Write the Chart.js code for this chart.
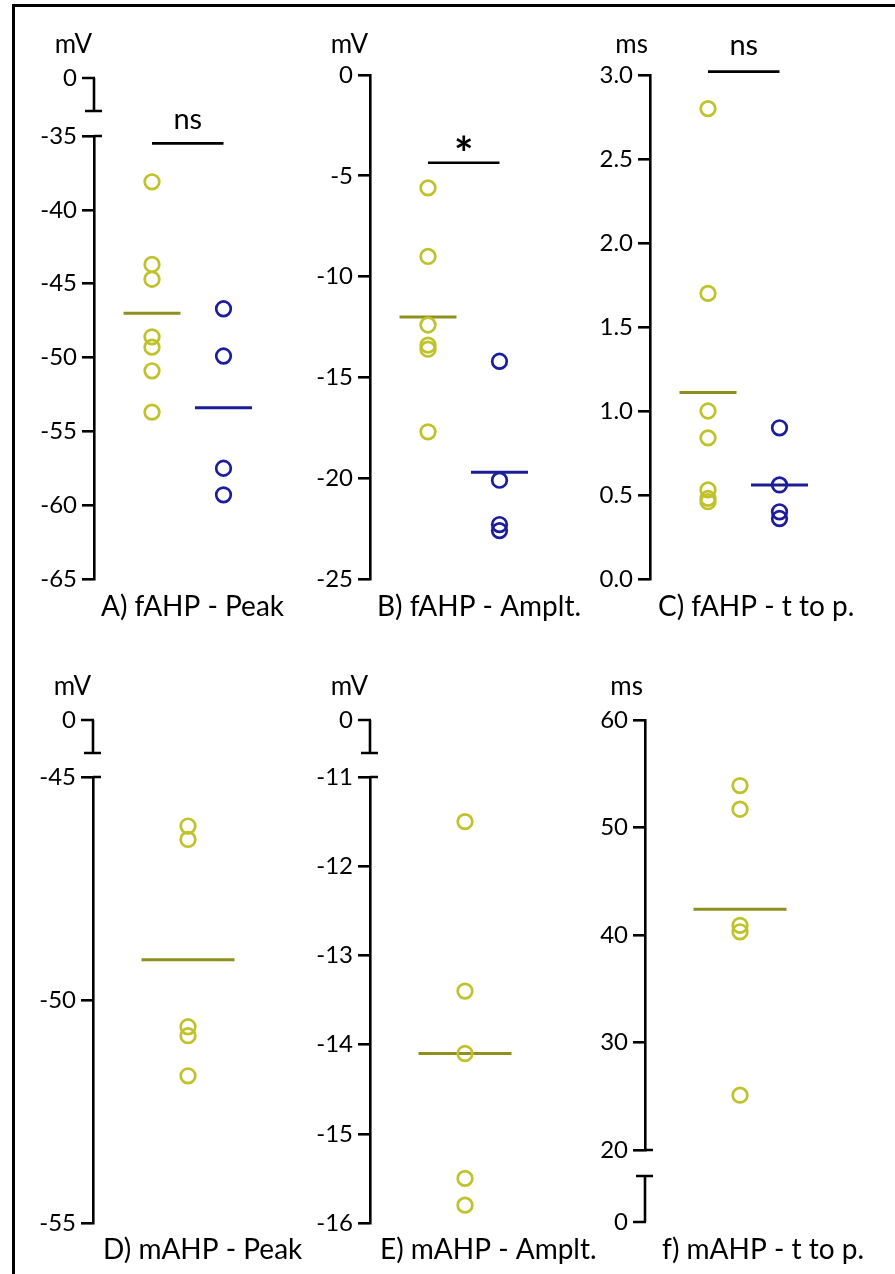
<!DOCTYPE html>
<html lang="en">
<head>
<meta charset="UTF-8">
<title>fAHP / mAHP parameters</title>
<script src="https://cdn.jsdelivr.net/npm/chart.js@4.4.1/dist/chart.umd.min.js"></script>
<style>
  body { margin: 0; background: #fff; width: 895px; height: 1274px; overflow: hidden; position: relative; }
  #frame { position: absolute; left: 12px; top: 4px; width: 900px; height: 1300px; border: 3px solid #000; box-sizing: border-box; }
  canvas { position: absolute; }
</style>
</head>
<body>
<div id="frame"></div>
<script>
// ---- panel titles and units ----
const titles = ['A) fAHP - Peak', 'B) fAHP - Amplt.', 'C) fAHP - t to p.',
                'D) mAHP - Peak', 'E) mAHP - Amplt.', 'f) mAHP - t to p.'];
const units = ['mV', 'mV', 'ms', 'mV', 'mV', 'ms'];

// ---- y tick labels (main axis segment) ----
const ticksA = [-65, -60, -55, -50, -45, -40, -35];
const ticksB = [-25, -20, -15, -10, -5, 0];
const ticksC = [0, 0.5, 1, 1.5, 2, 2.5, 3];
const ticksD = [-55, -50, -45];
const ticksE = [-16, -15, -14, -13, -12, -11];
const ticksF = [20, 30, 40, 50, 60];
// label on the short piece beyond the axis break
const breakTicks = [0, null, null, 0, 0, 0];

// ---- single cells: yellow group / blue group ----
const yellowA = [-38.1, -43.7, -44.7, -48.6, -49.3, -50.9, -53.7];
const blueA   = [-46.7, -49.9, -57.5, -59.3];
const yellowB = [-5.6, -9.0, -12.4, -13.4, -13.6, -17.7];
const blueB   = [-14.2, -20.1, -22.3, -22.6];
const yellowC = [2.8, 1.7, 1.0, 0.84, 0.53, 0.48, 0.46];
const blueC   = [0.9, 0.56, 0.4, 0.36];
const yellowD = [-46.1, -46.4, -50.6, -50.8, -51.7];
const yellowE = [-11.5, -13.4, -14.1, -15.5, -15.8];
const yellowF = [53.9, 51.7, 40.9, 40.3, 25.1];

// ---- group means [yellow, blue] ----
const meanA = [-47.0, -53.4];
const meanB = [-12.0, -19.7];
const meanC = [1.11, 0.56];
const meanD = [-49.1];
const meanE = [-14.1];
const meanF = [42.4];

// ---- significance bars ----
const sigLevel = [-35.5, -4.35, 3.02, null, null, null];
const sigText  = ['ns', '*', 'ns', null, null, null];

const panels = [
  { ticks: ticksA, groups: [yellowA, blueA], means: meanA },
  { ticks: ticksB, groups: [yellowB, blueB], means: meanB },
  { ticks: ticksC, groups: [yellowC, blueC], means: meanC },
  { ticks: ticksD, groups: [yellowD], means: meanD },
  { ticks: ticksE, groups: [yellowE], means: meanE },
  { ticks: ticksF, groups: [yellowF], means: meanF }
];

// ---- look ----
const FONT = 'Lato, "Open Sans", sans-serif';
const colors = ['#bfc22a', '#1c1c9e'];
const meanColors = ['#8f8f20', '#1c1c96'];
const LW = 2.6;

// page placement of every panel (pixels)
const place = [
  { left: 16,  top: 0,   w: 290, h: 637, axisX: 94,  yTop: 136, yBot: 579,  brk: { side: 'top', gap: 25, len: 33 }, titleX: 101, titleY: 607, unitY: 45, sigDy: -24 },
  { left: 296, top: 0,   w: 300, h: 637, axisX: 370, yTop: 75,  yBot: 579,  brk: null, titleX: 377, titleY: 607, unitY: 45, sigDy: -8 },
  { left: 578, top: 0,   w: 317, h: 637, axisX: 650, yTop: 75,  yBot: 579,  brk: null, titleX: 658, titleY: 607, unitY: 45, sigDy: -26 },
  { left: 16,  top: 637, w: 290, h: 637, axisX: 93,  yTop: 777, yBot: 1223, brk: { side: 'top', gap: 24, len: 33 }, titleX: 103, titleY: 1250, unitY: 687 },
  { left: 296, top: 637, w: 300, h: 637, axisX: 370, yTop: 777, yBot: 1223, brk: { side: 'top', gap: 24, len: 33 }, titleX: 380, titleY: 1250, unitY: 687 },
  { left: 578, top: 637, w: 317, h: 637, axisX: 645, yTop: 720, yBot: 1150, brk: { side: 'bottom', gap: 26, len: 46 }, titleX: 662, titleY: 1250, unitY: 687 }
];

// unit label, panel title, axis break and significance text
const decor = {
  id: 'decor',
  afterDraw(chart, args, o) {
    const ctx = chart.ctx, ys = chart.scales.y, xs = chart.scales.x;
    const ax = chart.chartArea.left;
    ctx.save();
    ctx.fillStyle = '#000';
    ctx.strokeStyle = '#000';
    ctx.lineWidth = LW;
    ctx.lineCap = 'butt';

    ctx.font = '26px ' + FONT;
    ctx.textAlign = 'right';
    ctx.textBaseline = 'middle';
    ctx.fillText(o.unit, ax - 2, o.unitY);

    ctx.font = '28px ' + FONT;
    ctx.textAlign = 'left';
    ctx.fillText(o.title, o.titleX, o.titleY);

    if (o.brk) {
      const b = o.brk;
      const dir = b.side === 'top' ? -1 : 1;
      const y0 = b.side === 'top' ? ys.top : ys.bottom;
      const yb = y0 + dir * b.gap;
      const ye = yb + dir * b.len;
      ctx.beginPath();
      ctx.moveTo(ax, y0); ctx.lineTo(ax + 8, y0);
      ctx.moveTo(ax - 9, yb); ctx.lineTo(ax + 8, yb);
      ctx.moveTo(ax, yb); ctx.lineTo(ax, ye);
      ctx.moveTo(ax - 12, ye); ctx.lineTo(ax + 1, ye);
      ctx.stroke();
      ctx.font = '24px ' + FONT;
      ctx.textAlign = 'right';
      ctx.fillText(String(o.breakTick), ax - 17, ye);
    }

    if (o.sigText) {
      const x = (xs.getPixelForValue(1) + xs.getPixelForValue(2)) / 2;
      const y = ys.getPixelForValue(o.sigLevel) + o.sigDy;
      ctx.textAlign = 'center';
      ctx.font = o.sigText === '*' ? 'bold 46px ' + FONT : '29px ' + FONT;
      ctx.fillText(o.sigText, x, y);
    }
    ctx.restore();
  }
};

panels.forEach((p, i) => {
  const L = place[i];
  const c = document.createElement('canvas');
  c.width = L.w;
  c.height = L.h;
  c.style.left = L.left + 'px';
  c.style.top = L.top + 'px';
  document.body.appendChild(c);

  const areaW = L.w - (L.axisX - L.left);
  // x placement of the groups: yellow / blue offsets from the axis
  let xmin, xmax;
  if (p.groups.length === 2) {
    const k = 71.5, off1 = 58;
    xmin = 1 - off1 / k;
    xmax = xmin + areaW / k;
  } else {
    const k = 95;
    xmin = 0;
    xmax = areaW / k;
  }
  const meanR = p.groups.length === 2 ? 28.5 : 46.5;

  const datasets = [];
  p.groups.forEach((g, gi) => {
    datasets.push({
      data: g.map(v => ({ x: gi + 1, y: v })),
      pointStyle: 'circle',
      pointRadius: 7.3,
      pointBorderWidth: 2.7,
      pointBorderColor: colors[gi],
      pointBackgroundColor: 'rgba(0,0,0,0)',
      showLine: false,
      clip: false
    });
    datasets.push({
      data: [{ x: gi + 1, y: p.means[gi] }],
      pointStyle: 'line',
      pointRadius: meanR,
      pointBorderWidth: 3,
      pointBorderColor: meanColors[gi],
      showLine: false,
      clip: false
    });
  });
  if (sigLevel[i] !== null) {
    datasets.push({
      type: 'line',
      data: [{ x: 1, y: sigLevel[i] }, { x: 2, y: sigLevel[i] }],
      borderColor: '#000',
      borderWidth: LW,
      pointRadius: 0,
      fill: false,
      clip: false
    });
  }

  const yt = p.ticks;
  new Chart(c, {
    type: 'scatter',
    data: { datasets },
    options: {
      responsive: false,
      animation: false,
      events: [],
      layout: {
        autoPadding: false,
        padding: { left: 0, right: 0, top: L.yTop - L.top, bottom: L.top + L.h - L.yBot }
      },
      scales: {
        x: { type: 'linear', display: false, min: xmin, max: xmax },
        y: {
          type: 'linear',
          position: 'left',
          min: Math.min(...yt),
          max: Math.max(...yt),
          afterBuildTicks: axis => { axis.ticks = yt.map(v => ({ value: v })); },
          afterFit: s => { s.width = L.axisX - L.left; },
          border: { display: true, color: '#000', width: LW },
          grid: { drawOnChartArea: false, drawTicks: true, tickLength: 12, color: '#000', lineWidth: LW },
          ticks: {
            color: '#000',
            padding: 5,
            font: { family: FONT, size: 24 },
            callback: v => (i === 2 ? v.toFixed(1) : String(v))
          }
        }
      },
      plugins: {
        legend: { display: false },
        tooltip: { enabled: false },
        decor: {
          unit: units[i],
          unitY: L.unitY - L.top,
          title: titles[i],
          titleX: L.titleX - L.left,
          titleY: L.titleY - L.top,
          brk: L.brk,
          breakTick: breakTicks[i],
          sigLevel: sigLevel[i],
          sigText: sigText[i],
          sigDy: L.sigDy || 0
        }
      }
    },
    plugins: [decor]
  });
});
</script>
</body>
</html>
